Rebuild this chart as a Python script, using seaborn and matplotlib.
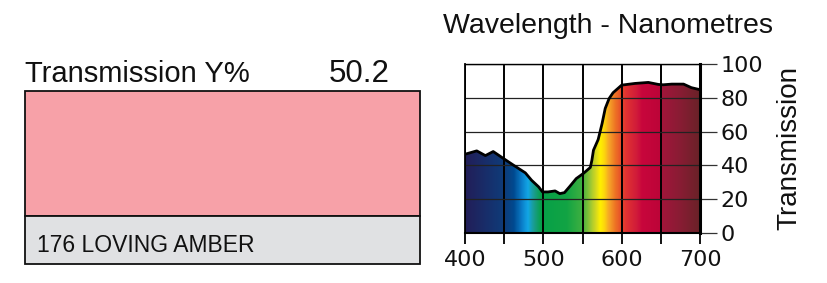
import numpy as np
import pandas as pd
import matplotlib
matplotlib.use("Agg")
import matplotlib.pyplot as plt
import seaborn as sns
from matplotlib.colors import LinearSegmentedColormap
from matplotlib.patches import Rectangle, Polygon
from matplotlib import font_manager

# ---------------- data ----------------
wavelength = [400, 415, 426, 436, 451, 462, 477, 485, 494, 499, 506, 515, 521, 527,
              534, 542, 551, 560, 562, 564, 570, 575, 579, 584, 589, 600, 617, 634,
              647, 653, 664, 679, 689, 700]
transmission = [46.6, 48.6, 45.8, 48.2, 43.5, 40.1, 35.6, 31.2, 27.3, 24.3, 24.3, 24.9,
                23.3, 23.9, 27.7, 32.2, 35.2, 38.8, 43.1, 49.0, 55.3, 64.8, 73.7, 79.6,
                83.0, 87.5, 88.5, 89.1, 87.9, 87.7, 88.1, 88.1, 86.0, 84.8]
x_ticks = [400, 450, 500, 550, 600, 650, 700]
x_tick_labels = ["400", "", "500", "", "600", "", "700"]
y_ticks = [0, 20, 40, 60, 80, 100]
y_tick_labels = ["0", "20", "40", "60", "80", "100"]
filter_name = "176 LOVING AMBER"
transmission_y = "50.2"
swatch_color = "#f7a1a8"

# spectrum colour stops (style)
spectrum_stops = [
    (400, "#221e58"), (450, "#0f3c7a"), (462, "#004a90"), (472, "#0a7cc8"),
    (480, "#12a6e6"), (488, "#1a9c8c"), (497, "#06a048"), (530, "#12a444"),
    (550, "#40b040"), (560, "#98c634"), (567, "#d4d820"), (573, "#fff000"),
    (579, "#fcd010"), (584, "#f6a428"), (592, "#ee7424"), (600, "#e64a2a"),
    (606, "#e03232"), (620, "#d01a3a"), (626, "#c8063c"), (650, "#bc0438"),
    (653, "#a0163a"), (674, "#8a1c34"), (700, "#6a2228"),
]

sns.set_theme(style="white")
plt.rcParams["font.family"] = ["Liberation Sans", "DejaVu Sans"]

W, H = 827, 283
fig = plt.figure(figsize=(W / 100, H / 100), dpi=100)

# ---------------- left panel ----------------
ax0 = fig.add_axes([0, 0, 1, 1])
ax0.set_xlim(0, W)
ax0.set_ylim(H, 0)
ax0.axis("off")
ax0.add_patch(Rectangle((25, 91), 395, 125, facecolor=swatch_color,
                        edgecolor="#111111", lw=1.3))
ax0.add_patch(Rectangle((25, 216), 395, 47.5, facecolor="#e0e1e3",
                        edgecolor="#111111", lw=1.3))
ax0.text(25, 82, "Transmission Y%", fontsize=21, va="baseline", ha="left", color="#111111")
ax0.text(390, 82, transmission_y, fontsize=22.5, va="baseline", ha="right", color="#111111")

names = {f.name for f in font_manager.fontManager.ttflist}
if "Liberation Sans Narrow" in names:
    ax0.text(37, 251.5, filter_name, fontsize=19.5, va="baseline", ha="left",
             family=["Liberation Sans Narrow", "DejaVu Sans"], color="#111111")
else:
    ax0.text(37, 251.5, filter_name, fontsize=16.5, va="baseline", ha="left",
             color="#111111")

ax0.text(608, 33, "Wavelength - Nanometres", fontsize=20.5, va="baseline", ha="center",
         color="#111111")

# ---------------- right panel ----------------
ax = fig.add_axes([465 / W, 1 - 233 / H, 235 / W, 169 / H])
df = pd.DataFrame({"nm": wavelength, "T": transmission})

cmap = LinearSegmentedColormap.from_list(
    "spec", [((n - 400) / 300, c) for n, c in spectrum_stops])
grad = np.linspace(0, 1, 800).reshape(1, -1)
im = ax.imshow(grad, extent=[400, 700, 0, 100], aspect="auto", cmap=cmap,
               zorder=1, interpolation="bilinear", origin="lower")
verts = [(400, 0)] + list(zip(wavelength, transmission)) + [(700, 0)]
poly = Polygon(verts, closed=True, transform=ax.transData,
               facecolor="none", edgecolor="none")
ax.add_patch(poly)
im.set_clip_path(poly)

sns.lineplot(data=df, x="nm", y="T", ax=ax, color="black", lw=2.0, zorder=4)

ax.set_xlim(400, 700)
ax.set_ylim(0, 100)
ax.set_xticks(x_ticks)
ax.set_xticklabels(x_tick_labels)
ax.set_yticks(y_ticks)
ax.set_yticklabels(y_tick_labels)
ax.set_axisbelow(False)
ax.xaxis.grid(True, color="black", lw=1.4)
ax.yaxis.grid(True, color="#222222", lw=0.9)

ax.yaxis.tick_right()
ax.yaxis.set_label_position("right")
ax.tick_params(axis="x", bottom=True, direction="out", length=8, width=1.3,
               color="black", labelsize=16, pad=4, labelcolor="#111111")
ax.tick_params(axis="y", right=True, left=False, direction="out", length=12, width=0.9,
               color="#333333", labelsize=16, pad=3, labelcolor="#111111")
for lab in ax.get_xticklabels() + ax.get_yticklabels():
    lab.set_family(["DejaVu Sans"])

ax.set_xlabel("")
ax.set_ylabel("Transmission", fontsize=20, labelpad=9, color="#111111")

for side, lw in [("left", 1.3), ("bottom", 1.5), ("top", 1.0), ("right", 2.2)]:
    ax.spines[side].set_visible(True)
    ax.spines[side].set_color("black")
    ax.spines[side].set_linewidth(lw)
    ax.spines[side].set_zorder(5)

fig.savefig("out.png", dpi=100)
